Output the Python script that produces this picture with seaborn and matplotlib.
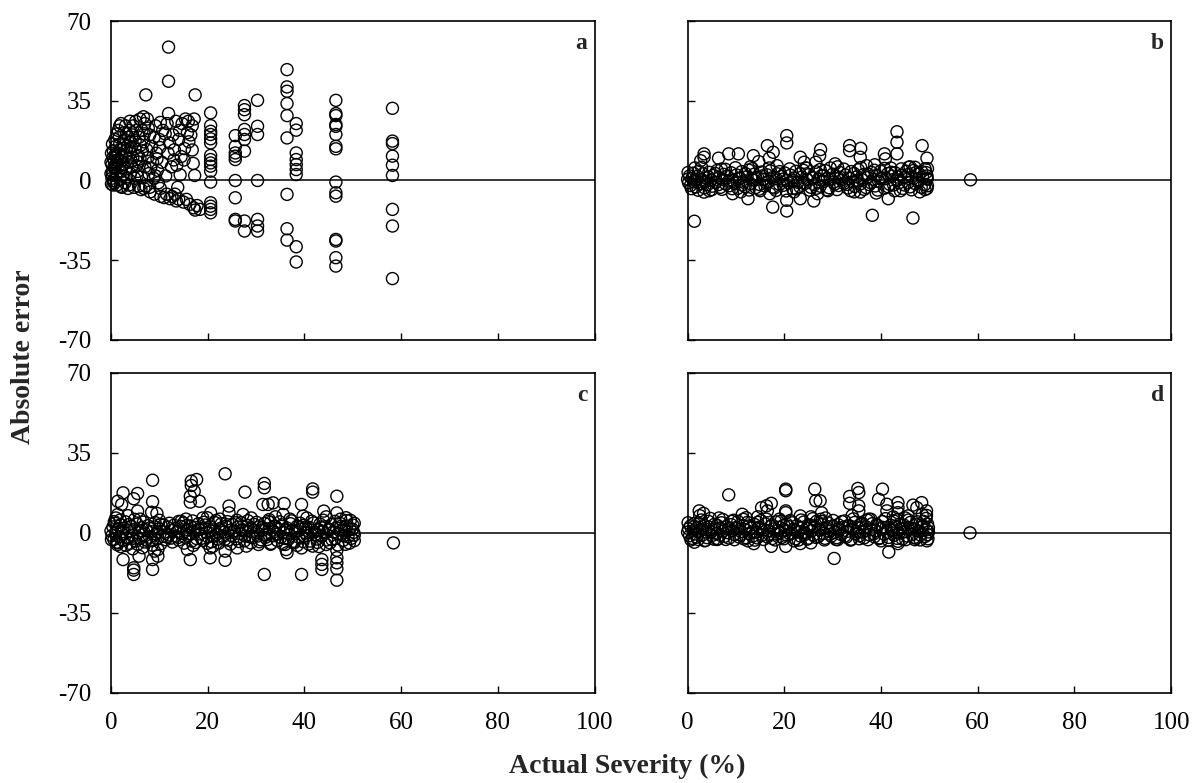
import numpy as np
import pandas as pd
import matplotlib
matplotlib.use("Agg")
import matplotlib.pyplot as plt
import seaborn as sns

x_ticks = [0, 20, 40, 60, 80, 100]
y_ticks = [-70, -35, 0, 35, 70]
y_tick_labels = ["-70", "-35", "0", "35", "70"]
panel_letters = ["a", "b", "c", "d"]
x_label = "Actual Severity (%)"
y_label = "Absolute error"

# panel a: dense cluster near origin, then discrete columns
a_points = [
	(0.1, -1.5), (0.2, 1.0), (0.3, 4.0), (0.2, 7.0), (0.4, 10.0), (0.5, 13.0), (0.3, 2.5), (0.6, -1.0),
	(0.8, 5.5), (0.7, 8.5), (0.9, 11.5), (0.5, 0.0), (1.0, 15.0), (1.0, 2.0), (0.4, -2.0),
	(1.2, -2.0), (1.3, 3.0), (1.5, 6.0), (1.4, 9.0), (1.6, 12.0), (1.8, 16.0), (1.7, 19.0), (1.5, 22.0),
	(1.9, 0.5), (2.0, 4.0), (2.0, 13.5), (1.8, 24.0),
	(2.2, -3.0), (2.4, 2.0), (2.5, 7.0), (2.3, 10.0), (2.6, 14.0), (2.8, 18.0), (2.7, 21.0), (2.9, -1.0),
	(3.0, 5.0), (3.0, 11.0), (3.0, 24.0),
	(3.3, 1.0), (3.5, 8.0), (3.4, 15.0), (3.6, 19.0), (3.8, 22.0), (3.7, -2.0), (4.0, 3.0), (4.0, 12.0),
	(4.0, 17.0), (3.9, 26.0),
	(4.3, 6.0), (4.5, 10.0), (4.4, 20.0), (4.6, 24.0), (4.8, -3.0), (4.9, 1.0), (5.0, 14.0), (5.0, 17.5),
	(5.2, 22.0), (5.1, 26.0),
	(5.5, 4.0), (5.7, 8.0), (5.6, 11.0), (5.8, 19.0), (6.0, 27.0), (6.2, -4.0), (6.3, 1.5), (6.5, 13.0),
	(6.4, 22.0), (6.7, 28.0), (6.8, 17.0), (7.0, 6.0), (7.0, 25.0), (7.2, -2.5),
	(7.5, 27.0), (7.6, 10.0), (7.8, 3.0), (8.0, 20.0), (8.1, -5.0), (8.4, 15.0), (8.6, 8.0), (8.8, 1.0),
	(9.0, -6.0), (9.2, 24.0), (9.4, 12.0), (9.6, 4.5), (9.8, -1.0), (10.0, 18.0), (10.3, -7.0), (10.5, 8.0),
	(10.7, 22.0),
	(11.0, -7.5), (11.3, 2.0), (11.6, 25.0), (11.8, 12.0), (12.2, -8.0), (12.5, 6.0), (12.8, 20.0), (13.0, 9.0),
	(13.2, -6.0), (13.4, 26.0), (13.5, -9.0), (13.6, 6.7), (14.0, -8.2), (14.2, 22.0), (14.5, 10.5),
	(14.7, 25.0), (15.0, -9.5), (15.2, 14.0), (15.4, 27.0), (15.6, -8.3), (15.8, 21.0), (16.0, 26.0),
	(16.3, -10.5), (16.5, 20.0), (16.8, 13.4), (17.0, 7.5), (17.1, -12.0), (17.3, 2.2), (17.4, -13.0),
	(17.2, 27.0), (18.4, -12.7),
	(0.0, 3.0), (0.0, 8.0), (0.1, 12.0), (0.6, 6.0), (1.1, -0.5), (1.2, 7.5), (1.1, 10.5), (2.1, 8.5),
	(2.2, 5.5), (3.2, 13.0), (0.3, 16.0), (0.8, 18.0), (1.3, 20.5), (2.5, 16.0), (2.1, 25.0), (3.2, 20.5),
	(4.2, 8.5), (4.2, 14.5), (5.3, 6.5), (5.4, 2.0), (6.0, 9.5), (6.1, 15.5), (6.9, 20.5), (7.4, 13.5),
	(7.7, 23.0), (8.2, 5.5), (8.9, 19.0), (9.5, 9.5), (10.1, 14.5), (10.2, 25.5), (11.2, 20.5),
	(12.1, 16.5), (13.1, 13.5), (14.0, 18.0), (14.3, 2.5), (13.8, -3.0), (15.1, 9.0), (16.1, 17.0),
	(16.8, 24.0), (17.8, -11.0), (12.6, -7.0), (11.5, -6.0), (10.2, -3.5), (9.2, 2.0), (8.0, -3.0),
	(6.8, -3.5), (5.7, -2.5), (3.5, -3.5), (2.0, -2.5),
	(7.2, 37.6), (11.9, 58.6), (11.9, 43.6), (11.9, 29.4), (17.4, 37.6),
	# x ~ 20.5
	(20.6, 29.7), (20.6, 24.1), (20.6, 21.6), (20.6, 20.2), (20.6, 18.3), (20.6, 16.5), (20.6, 11.0),
	(20.6, 9.2), (20.6, 7.7), (20.6, 6.3), (20.6, 4.1), (20.6, -0.7), (20.6, -9.8), (20.6, -11.3),
	(20.6, -12.7), (20.6, -14.2),
	# x ~ 25.7
	(25.7, 19.7), (25.7, 15.0), (25.7, 12.1), (25.7, 10.7), (25.7, 9.2), (25.7, 0.0), (25.7, -7.6),
	(25.7, -17.1), (25.7, -17.8),
	# x ~ 27.6
	(27.6, 32.9), (27.6, 31.1), (27.6, 28.9), (27.6, 22.4), (27.6, 20.2), (27.6, 18.0), (27.6, 12.9),
	(27.6, -17.8), (27.6, -22.2),
	# x ~ 30.3
	(30.3, 35.2), (30.3, 23.8), (30.3, 20.2), (30.3, 0.0), (30.3, -17.1), (30.3, -20.0), (30.3, -22.2),
	# x ~ 36.4
	(36.4, 48.7), (36.4, 41.1), (36.4, 39.2), (36.4, 33.8), (36.4, 28.5), (36.4, 18.7), (36.4, -6.1),
	(36.4, -21.2), (36.4, -26.2),
	# x ~ 38.3
	(38.3, 25.0), (38.3, 22.1), (38.3, 12.1), (38.3, 9.2), (38.3, 7.0), (38.3, 4.8), (38.3, 2.6),
	(38.3, -29.1), (38.3, -35.8),
	# x ~ 46.5
	(46.5, 35.2), (46.5, 29.4), (46.5, 28.5), (46.5, 24.6), (46.5, 23.8), (46.5, 20.2), (46.5, 15.0),
	(46.5, 13.9), (46.5, -0.7), (46.5, -5.4), (46.5, -6.9), (46.5, -25.9), (46.5, -26.6), (46.5, -33.9),
	(46.5, -37.6),
	# x ~ 58.2
	(58.2, 31.7), (58.2, 17.3), (58.2, 16.2), (58.2, 10.7), (58.2, 6.7), (58.2, 2.2), (58.2, -12.7),
	(58.2, -20.0), (58.2, -43.1),
]

b_points = [
	(0.0, 0.5), (0.2, -1.0), (0.4, 2.0), (0.6, -2.2), (0.9, 1.0), (1.2, 3.2), (1.4, -0.6), (1.7, -2.8),
	(2.0, 1.8), (2.3, 4.1), (2.6, -1.5), (2.9, 0.4), (3.2, 2.9), (3.5, -3.2), (3.8, 1.1), (4.1, -1.9),
	(4.4, 3.6), (4.8, 0.2), (5.1, -2.5), (5.4, 2.2), (5.8, -0.9), (6.1, 4.4), (6.5, 1.3), (6.8, -3.0),
	(7.2, 0.6), (7.5, 2.7), (7.9, -1.6), (8.2, 1.9), (8.6, -2.3), (9.0, 3.4), (9.3, 0.1), (9.7, -1.2),
	(10.1, 2.4), (10.4, -3.4), (10.8, 1.0), (11.2, 3.9), (11.5, -0.7), (11.9, -2.6), (12.3, 1.6),
	(12.6, 4.6), (13.0, -1.4), (13.4, 0.3), (13.8, 2.8), (14.1, -3.1), (14.5, 1.4), (14.9, -1.8),
	(15.3, 3.7), (15.6, 0.5), (16.0, -2.4), (16.4, 2.5), (16.8, -0.4), (17.1, 4.2), (17.5, 1.2),
	(17.9, -3.3), (18.3, 0.8), (18.6, 2.9), (19.0, -1.7), (19.4, 1.8), (19.8, -2.1), (20.1, 3.3),
	(20.5, 0.0), (20.9, -1.1), (21.3, 2.3), (21.7, -3.5), (22.0, 1.1), (22.4, 4.0), (22.8, -0.8),
	(23.2, -2.7), (23.6, 1.5), (23.9, 4.5), (24.3, -1.3), (24.7, 0.4), (25.1, 2.6), (25.5, -3.0),
	(25.8, 1.3), (26.2, -1.9), (26.6, 3.8), (27.0, 0.6), (27.4, -2.5), (27.7, 2.1), (28.1, -0.5),
	(28.5, 4.3), (28.9, 1.0), (29.3, -3.2), (29.6, 0.7), (30.0, 2.8), (30.4, -1.6), (30.8, 1.7),
	(31.2, -2.2), (31.5, 3.5), (31.9, 0.2), (32.3, -1.3), (32.7, 2.4), (33.1, -3.3), (33.4, 0.9),
	(33.8, 3.9), (34.2, -0.6), (34.6, -2.6), (35.0, 1.6), (35.3, 4.7), (35.7, -1.5), (36.1, 0.3),
	(36.5, 2.7), (36.9, -3.1), (37.2, 1.4), (37.6, -1.8), (38.0, 3.6), (38.4, 0.5), (38.8, -2.4),
	(39.1, 2.3), (39.5, -0.3), (39.9, 4.1), (40.3, 1.1), (40.7, -3.4), (41.0, 0.8), (41.4, 3.0),
	(41.8, -1.7), (42.2, 1.9), (42.6, -2.0), (42.9, 3.4), (43.3, 0.1), (43.7, -1.0), (44.1, 2.2),
	(44.5, -3.5), (44.8, 1.2), (45.2, 4.0), (45.6, -0.9), (46.0, -2.8), (46.4, 1.5), (46.7, 4.4),
	(47.1, -1.4), (47.5, 0.4), (47.9, 2.9), (48.3, -3.0), (48.6, 1.3), (49.0, -1.9), (49.3, 3.5),
	(49.5, 0.6), (49.6, -2.3), (49.6, 5.2),
	(0.1, 3.5), (0.8, -3.6), (1.5, 0.2), (2.2, -4.3), (2.9, 5.8), (3.6, -0.5), (4.3, 1.6), (5.0, -4.0),
	(5.7, 3.1), (6.4, -1.8), (7.1, -3.9), (7.8, 4.9), (8.5, -0.2), (9.2, -3.6), (9.9, 5.6), (10.6, 0.9),
	(11.3, -2.0), (12.0, 3.0), (12.7, -4.2), (13.4, 5.2), (14.1, 1.0), (14.8, -3.8), (15.5, 2.0),
	(16.2, -0.9), (16.9, 5.5), (17.6, -2.9), (18.3, -4.4), (19.0, 3.9), (19.7, 0.6), (20.4, -4.6),
	(21.1, 5.1), (21.8, 0.0), (22.5, -3.7), (23.2, 2.9), (23.9, -1.0), (24.6, 5.4), (25.3, -4.3),
	(26.0, 1.1), (26.7, -3.4), (27.4, 4.8), (28.1, 2.2), (28.8, -4.1), (29.5, 5.5), (30.2, -0.7),
	(30.9, -4.0), (31.6, 1.4), (32.3, 5.0), (33.0, -1.7), (33.7, -4.5), (34.4, 3.1), (35.1, -0.1),
	(35.8, 5.7), (36.5, -3.9), (37.2, 2.8), (37.9, -1.0), (38.6, 4.5), (39.3, -4.2), (40.0, 0.9),
	(40.7, 5.3), (41.4, -2.7), (42.1, 3.6), (42.8, -4.5), (43.5, 1.5), (44.2, 5.1), (44.9, -2.0),
	(45.6, 2.6), (46.3, -4.1), (47.0, 5.8), (47.7, -0.6), (48.4, 3.9), (49.1, -4.0), (49.5, 1.0),
	(1.5, 5.5), (4.5, -4.5), (7.0, 5.0), (11.0, -5.0), (13.0, 6.0), (15.0, -4.5), (18.5, 6.5), (22.0, -5.0),
	(24.5, 5.5), (29.0, -4.5), (31.0, 6.0), (34.5, -5.0), (37.0, 6.5), (39.0, -5.5), (42.0, 5.5),
	(44.0, -4.5), (46.0, 6.0), (48.0, -5.0), (49.5, -3.5), (49.5, 2.0),
	(1.4, -17.9), (20.5, 19.7), (20.5, 16.5), (43.3, 21.4), (43.3, 16.8), (48.5, 15.3), (49.5, 9.8),
	(38.2, -15.3), (46.6, -16.5), (58.5, 0.3), (17.6, -11.7), (20.5, -13.4), (20.5, -8.7), (12.5, -8.0),
	(23.3, -8.0), (26.1, -9.0), (26.9, -5.8), (41.5, -8.0), (35.7, -5.1), (17.0, -5.8), (3.4, -5.1),
	(9.3, -5.8),
	(3.4, 11.7), (3.4, 10.2), (2.7, 8.7), (8.5, 11.7), (10.5, 11.7), (6.4, 9.8), (16.5, 15.3), (17.7, 12.4),
	(16.9, 9.8), (13.6, 10.9), (14.7, 8.3), (23.3, 10.2), (24.1, 8.0), (27.5, 13.6), (27.3, 10.9),
	(26.5, 8.0), (33.5, 15.3), (33.5, 13.1), (35.8, 14.1), (35.7, 10.2), (40.7, 11.7), (40.9, 9.5),
	(43.3, 11.7), (30.5, 7.3), (38.7, 6.9), (45.7, 5.8), (49.1, 5.1), (47.3, 3.6),
]

c_points = [
	(0.0, 0.8), (0.2, -1.2), (0.4, 2.6), (0.6, -2.9), (0.8, 4.2), (1.0, 0.2), (1.2, -4.1), (1.5, 1.7),
	(1.7, -1.8), (2.0, 3.5), (2.2, -0.4), (2.5, -3.3), (2.7, 2.0), (3.0, 4.8), (3.3, -2.2), (3.6, 0.9),
	(3.9, -4.6), (4.2, 2.9), (4.5, -1.0), (4.8, 1.4), (5.1, -3.6), (5.4, 3.8), (5.7, 0.0), (6.0, -2.4),
	(6.3, 2.2), (6.7, -0.8), (7.0, -4.0), (7.3, 1.2), (7.6, 3.1), (8.0, -1.9), (8.3, 0.5), (8.6, -3.4),
	(9.0, 2.6), (9.3, -0.6), (9.6, -2.7), (10.0, 1.8), (10.3, 3.7), (10.7, -1.5), (11.0, 0.3), (11.3, -3.0),
	(11.7, 2.4), (12.0, -0.9), (12.4, -2.3), (12.7, 1.1), (13.0, 3.3), (13.4, -1.4), (13.7, 0.6),
	(14.0, -3.1), (14.4, 2.8), (14.7, -0.2), (15.0, 4.3), (15.4, -2.0), (15.7, 1.5), (16.0, -1.1),
	(16.4, 3.0), (16.7, -3.6), (17.0, 0.7), (17.4, 2.3), (17.7, -2.5), (18.1, 4.0), (18.4, -0.5),
	(18.7, 1.9), (19.1, -3.3), (19.4, 3.4), (19.8, 0.1), (20.1, -1.8), (20.4, 2.7), (20.8, -3.9),
	(21.1, 1.3), (21.5, 4.5), (21.8, -0.7), (22.1, -2.8), (22.5, 1.7), (22.8, 3.9), (23.2, -1.6),
	(23.5, 0.4), (23.8, 2.9), (24.2, -3.2), (24.5, 1.0), (24.9, -1.2), (25.2, 3.6), (25.5, 0.8),
	(25.9, -2.6), (26.2, 2.5), (26.6, -0.3), (26.9, 4.4), (27.2, 1.4), (27.6, -3.5), (27.9, 0.9),
	(28.3, 3.2), (28.6, -1.7), (28.9, 2.0), (29.3, -2.1), (29.6, 3.7), (30.0, 0.3), (30.3, -1.4),
	(30.6, 2.6), (31.0, -3.0), (31.3, 1.2), (31.7, 4.1), (32.0, -0.9), (32.3, -2.9), (32.7, 1.8),
	(33.0, 4.6), (33.4, -1.3), (33.7, 0.5), (34.0, 2.8), (34.4, -3.4), (34.7, 1.5), (35.1, -2.0),
	(35.4, 3.5), (35.7, 0.2), (36.1, -2.4), (36.4, 2.1), (36.8, -0.6), (37.1, 4.0), (37.4, 1.0),
	(37.8, -3.7), (38.1, 0.7), (38.5, 2.9), (38.8, -1.9), (39.1, 1.6), (39.5, -2.2), (39.8, 3.3),
	(40.2, 0.0), (40.5, -1.1), (40.9, 2.4), (41.2, -3.6), (41.5, 1.1), (41.9, 4.3), (42.2, -0.8),
	(42.6, -2.7), (42.9, 1.4), (43.2, 3.8), (43.6, -1.5), (43.9, 0.6), (44.3, 2.7), (44.6, -3.1),
	(44.9, 1.3), (45.3, -4.4), (45.6, 3.6), (46.0, 0.4), (46.3, -2.5), (46.6, 2.2), (47.0, -0.4),
	(47.3, 4.2), (47.7, 1.2), (48.0, -3.3), (48.3, 0.9), (48.7, 3.0), (49.0, -1.7), (49.4, 1.9),
	(49.7, -2.4), (50.0, 3.4), (50.2, 0.2), (50.3, -1.0),
	(0.1, -3.0), (0.7, 4.9), (1.3, -5.2), (1.9, 5.6), (2.5, 0.6), (3.1, -5.5), (3.7, 3.6), (4.3, -2.6),
	(4.9, 5.9), (5.5, -5.0), (6.1, 1.0), (6.7, 4.7), (7.3, -3.2), (7.9, 2.0), (8.5, -5.4), (9.1, 4.5),
	(9.7, 0.3), (10.3, -4.8), (10.9, 3.4), (11.5, -1.8), (12.1, 4.2), (12.7, -4.0), (13.3, 1.8),
	(13.9, -2.0), (14.5, 5.0), (15.1, -4.5), (15.7, 3.2), (16.3, -0.4), (16.9, 5.2), (17.5, -4.2),
	(18.1, 1.5), (18.7, -2.4), (19.3, 4.6), (19.9, -4.6), (20.5, 1.0), (21.1, -1.6), (21.7, 5.4),
	(22.3, -4.5), (22.9, 2.2), (23.5, -2.9), (24.1, 4.9), (24.7, -4.9), (25.3, 0.6), (25.9, 4.4),
	(26.5, -3.8), (27.1, 2.7), (27.7, -1.4), (28.3, 5.3), (28.9, -4.4), (29.5, 1.2), (30.1, 4.6),
	(30.7, -3.9), (31.3, 2.4), (31.9, -2.0), (32.5, 5.0), (33.1, -4.6), (33.7, 2.9), (34.3, -0.6),
	(34.9, 4.8), (35.5, -4.8), (36.1, 1.4), (36.7, -2.8), (37.3, 5.2), (37.9, -4.3), (38.5, 1.0),
	(39.1, 4.2), (39.7, -3.8), (40.3, 2.6), (40.9, -4.9), (41.5, 5.1), (42.1, 0.4), (42.7, -4.2),
	(43.3, 2.5), (43.9, 5.5), (44.5, -5.1), (45.1, 1.6), (45.7, -3.0), (46.3, 5.0), (46.9, -5.3),
	(47.5, 2.8), (48.1, -1.3), (48.7, 5.4), (49.3, -4.5), (49.9, 1.6), (50.3, 4.2), (50.3, -3.4),
	(1.0, 6.5), (2.0, -6.0), (3.5, 7.5), (4.5, -7.0), (6.0, 6.0), (6.5, -6.5), (9.0, -8.0), (10.0, 5.5),
	(14.0, 5.0), (15.5, 6.0), (17.0, -5.5), (19.0, 6.5), (21.0, -6.0), (22.5, 6.0), (26.0, 5.5),
	(29.0, 6.5), (33.0, -5.0), (34.0, 7.0), (37.0, 6.0), (38.5, -5.5), (40.5, 6.5), (43.0, -6.0),
	(44.5, 7.0), (47.5, 6.0), (48.5, -5.0), (49.5, 5.5),
	(23.6, 25.8), (8.6, 23.0), (16.6, 22.6), (17.7, 23.3), (16.6, 20.7), (17.2, 18.2), (16.4, 16.0),
	(16.4, 13.4), (18.3, 13.8), (31.7, 21.6), (31.7, 19.7), (41.7, 19.2), (41.7, 17.8), (46.7, 16.0),
	(27.7, 17.8), (2.5, 17.5), (5.5, 17.2), (4.7, 14.9), (1.4, 13.8), (2.2, 12.4), (8.6, 13.6), (8.4, 9.0),
	(9.5, 8.5), (5.5, 9.5), (1.4, 8.0), (24.4, 11.7), (24.4, 8.7), (31.4, 12.4), (32.5, 12.4), (33.5, 13.1),
	(35.8, 12.8), (39.4, 12.4), (44.0, 9.5), (46.7, 8.7), (48.6, 6.6), (27.3, 8.0), (20.6, 8.7), (19.9, 6.6),
	(35.6, 8.0), (39.7, 7.3), (32.7, 5.8),
	(4.7, -18.2), (4.7, -16.3), (4.7, -15.3), (2.5, -11.7), (5.8, -10.2), (8.6, -16.0), (8.6, -11.7),
	(9.7, -10.2), (9.7, -7.3), (16.4, -11.7), (15.8, -7.3), (20.5, -10.9), (20.5, -6.6), (23.6, -12.0),
	(23.6, -8.0), (28.0, -5.8), (30.5, -5.1), (31.7, -18.2), (36.2, -7.3), (36.0, -5.1), (39.4, -18.2),
	(39.4, -6.6), (43.6, -16.0), (43.6, -13.8), (43.6, -11.7), (46.7, -20.7), (46.7, -15.7), (46.7, -13.1),
	(46.7, -10.9), (46.7, -7.6), (41.7, -5.8), (58.4, -4.4), (26.1, -6.6), (36.4, -8.7), (1.4, -4.4),
]

d_points = [
	(0.0, 0.3), (0.2, 1.8), (0.4, -1.3), (0.6, 3.0), (0.9, -2.4), (1.1, 0.9), (1.4, 4.1), (1.6, -0.5),
	(1.9, 2.2), (2.2, -2.9), (2.5, 1.2), (2.8, 5.6), (3.1, -0.9), (3.4, 3.3), (3.7, 0.4), (4.0, -2.1),
	(4.3, 2.6), (4.7, 6.3), (5.0, -1.2), (5.3, 1.5), (5.6, 3.8), (6.0, -0.3), (6.3, -2.6), (6.6, 2.0),
	(7.0, 4.4), (7.3, 0.7), (7.6, -1.6), (8.0, 2.8), (8.3, 0.1), (8.6, -2.3), (9.0, 3.6), (9.3, 1.0),
	(9.7, -0.8), (10.0, 2.3), (10.4, 5.0), (10.7, -1.9), (11.0, 0.6), (11.4, 3.1), (11.7, -2.7),
	(12.0, 1.4), (12.4, 4.6), (12.7, -0.4), (13.1, 2.1), (13.4, -1.5), (13.8, 3.7), (14.1, 0.2),
	(14.4, -2.2), (14.8, 2.5), (15.1, 5.3), (15.5, -0.9), (15.8, 1.3), (16.1, 3.9), (16.5, -1.8),
	(16.8, 0.8), (17.2, 2.9), (17.5, -2.5), (17.8, 1.7), (18.2, 4.8), (18.5, -0.6), (18.9, 2.4),
	(19.2, 0.0), (19.5, -2.0), (19.9, 3.4), (20.2, 1.1), (20.6, -1.2), (20.9, 2.7), (21.2, 5.4),
	(21.6, -0.2), (21.9, 1.6), (22.3, -2.6), (22.6, 3.2), (22.9, 0.5), (23.3, -1.4), (23.6, 2.2),
	(24.0, 4.7), (24.3, -0.7), (24.6, 1.9), (25.0, -2.3), (25.3, 3.5), (25.7, 0.9), (26.0, -1.0),
	(26.3, 2.6), (26.7, 5.1), (27.0, -1.7), (27.4, 1.2), (27.7, 3.8), (28.0, -0.3), (28.4, -2.4),
	(28.7, 2.0), (29.1, 4.3), (29.4, 0.6), (29.7, -1.5), (30.1, 2.9), (30.4, 0.2), (30.8, -2.1),
	(31.1, 3.6), (31.4, 1.3), (31.8, -0.8), (32.1, 2.4), (32.5, 5.2), (32.8, -1.9), (33.1, 0.7),
	(33.5, 3.0), (33.8, -2.8), (34.2, 1.5), (34.5, 4.5), (34.8, -0.4), (35.2, 2.2), (35.5, -1.3),
	(35.9, 3.7), (36.2, 0.3), (36.5, -2.2), (36.9, 2.6), (37.2, 5.5), (37.6, -0.9), (37.9, 1.4),
	(38.2, 4.0), (38.6, -1.7), (38.9, 0.9), (39.3, 3.1), (39.6, -2.5), (39.9, 1.8), (40.3, 4.9),
	(40.6, -0.5), (41.0, 2.3), (41.3, 0.1), (41.6, -2.0), (42.0, 3.3), (42.3, 1.0), (42.7, -1.1),
	(43.0, 2.8), (43.3, 5.7), (43.7, -0.1), (44.0, 1.7), (44.4, -2.7), (44.7, 3.4), (45.0, 0.6),
	(45.4, -1.4), (45.7, 2.1), (46.1, 4.6), (46.4, -0.8), (46.7, 1.9), (47.1, -2.3), (47.4, 3.6),
	(47.8, 0.8), (48.1, -0.9), (48.4, 2.5), (48.8, 5.0), (49.1, -1.6), (49.4, 1.3), (49.6, 3.9),
	(49.7, -2.6), (49.8, 0.4),
	(0.1, 4.4), (0.7, -3.1), (1.3, 2.6), (1.9, -1.9), (2.5, 4.0), (3.1, 1.5), (3.7, -3.3), (4.3, 5.0),
	(4.9, 0.4), (5.5, -2.8), (6.1, 3.3), (6.7, -1.0), (7.3, 5.8), (7.9, -2.9), (8.5, 1.8), (9.1, 5.0),
	(9.7, -3.0), (10.3, 2.0), (10.9, -0.9), (11.5, 5.9), (12.1, -2.1), (12.7, 3.0), (13.3, 0.3),
	(13.9, -3.2), (14.5, 4.6), (15.1, 1.7), (15.7, -2.9), (16.3, 6.0), (16.9, -0.6), (17.5, 3.4),
	(18.1, -3.1), (18.7, 1.0), (19.3, 5.2), (19.9, -2.6), (20.5, 3.8), (21.1, -0.4), (21.7, 4.4),
	(22.3, 1.0), (22.9, -3.2), (23.5, 5.6), (24.1, 0.2), (24.7, -2.8), (25.3, 3.0), (25.9, 6.2),
	(26.5, -2.0), (27.1, 1.6), (27.7, 5.0), (28.3, -3.1), (28.9, 2.7), (29.5, -0.6), (30.1, 5.4),
	(30.7, -2.9), (31.3, 1.9), (31.9, 4.9), (32.5, -1.4), (33.1, 3.1), (33.7, -3.2), (34.3, 6.1),
	(34.9, 0.6), (35.5, -2.6), (36.1, 4.2), (36.7, 1.1), (37.3, -3.0), (37.9, 5.9), (38.5, -0.4),
	(39.1, 3.6), (39.7, -2.2), (40.3, 2.4), (40.9, 6.2), (41.5, -3.2), (42.1, 1.4), (42.7, 5.1),
	(43.3, -2.4), (43.9, 3.9), (44.5, 0.3), (45.1, -3.0), (45.7, 5.6), (46.3, 1.7), (46.9, -2.0),
	(47.5, 4.8), (48.1, -3.1), (48.7, 3.0), (49.3, 6.3), (49.6, -0.8), (49.8, 2.2),
	(2.5, 7.5), (3.5, -3.5), (6.5, 6.5), (9.5, 5.5), (12.5, -3.5), (14.5, 7.0), (19.0, 6.0), (22.0, -3.5),
	(25.5, 7.0), (28.5, 6.5), (31.0, -3.0), (34.0, 7.5), (37.5, 6.0), (40.0, -3.5), (42.5, 7.0),
	(45.0, 6.5), (47.0, -3.0), (48.5, 8.0), (49.5, -3.5),
	(8.5, 16.6), (20.3, 19.1), (20.3, 18.4), (26.3, 19.1), (26.5, 14.0), (27.4, 14.0), (27.7, 8.8),
	(27.5, 5.9), (35.2, 19.4), (35.4, 17.6), (33.5, 15.9), (33.5, 12.9), (35.4, 11.8), (35.4, 9.6),
	(40.3, 19.1), (39.5, 14.7), (41.2, 12.5), (41.2, 9.6), (43.5, 13.2), (43.5, 11.0), (43.5, 8.8),
	(45.6, 7.4), (46.6, 12.1), (47.4, 11.0), (48.4, 13.2), (49.4, 9.6), (49.4, 7.6),
	(15.3, 11.0), (16.3, 11.8), (17.3, 12.9), (16.5, 9.6), (20.3, 9.6), (20.3, 8.8), (23.3, 7.4),
	(2.4, 9.6), (3.3, 8.5), (11.3, 8.1), (12.1, 6.6),
	(30.3, -11.2), (41.6, -8.4), (43.5, -4.7), (43.5, -3.7), (17.3, -5.9), (20.3, -5.9), (23.3, -4.7),
	(25.5, -4.4), (13.7, -4.7), (6.1, -2.9), (1.4, -4.1), (58.4, 0.0),
]


def to_frame(points, panel):
	df = pd.DataFrame(points, columns=["severity", "error"])
	df["panel"] = panel
	return df


data = pd.concat([
	to_frame(a_points, "a"),
	to_frame(b_points, "b"),
	to_frame(c_points, "c"),
	to_frame(d_points, "d"),
], ignore_index=True)

sns.set_theme(style="ticks", rc={"axes.edgecolor": "black", "axes.linewidth": 1.2,
								 "xtick.color": "black", "ytick.color": "black"})
plt.rcParams["font.family"] = ["Liberation Serif", "DejaVu Serif"]

fig = plt.figure(figsize=(12, 7.83), dpi=100)

# axes boxes in figure fractions: left, bottom, width, height
boxes = {
	"a": [0.0925, 0.566, 0.403, 0.407],
	"b": [0.573, 0.566, 0.403, 0.407],
	"c": [0.0925, 0.115, 0.403, 0.409],
	"d": [0.573, 0.115, 0.403, 0.409],
}

for letter in panel_letters:
	ax = fig.add_axes(boxes[letter])
	sub = data[data["panel"] == letter]
	ax.axhline(0, color="black", lw=1.1, zorder=1)
	sns.scatterplot(data=sub, x="severity", y="error", ax=ax, marker="o", s=75,
					fc="none", ec="black", linewidth=1.0, legend=False, zorder=2, clip_on=False)
	ax.set_xlim(0, 100)
	ax.set_ylim(-70, 70)
	ax.set_xticks(x_ticks)
	ax.set_yticks(y_ticks)
	ax.set_yticklabels(y_tick_labels)
	ax.set_xlabel("")
	ax.set_ylabel("")
	ax.tick_params(direction="in", length=5, width=1.0, labelsize=18, pad=14)
	if letter in ("a", "b"):
		ax.tick_params(labelbottom=False)
	if letter in ("b", "d"):
		ax.tick_params(labelleft=False)
	ax.text(0.985, 0.93, letter, transform=ax.transAxes, ha="right", va="center",
			fontsize=17, fontweight="bold")

fig.text(0.02, 0.545, y_label, rotation=90, ha="center", va="center", fontsize=20, fontweight="bold")
fig.text(0.5225, 0.021, x_label, ha="center", va="center", fontsize=20, fontweight="bold")

fig.savefig("out.png", dpi=100)
